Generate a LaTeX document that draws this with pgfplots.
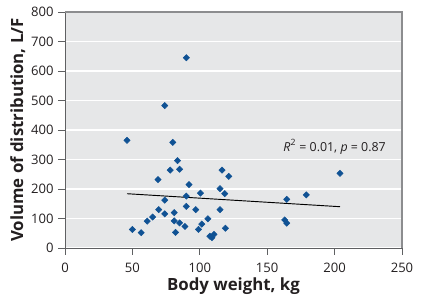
\documentclass[border=0pt]{standalone}
\usepackage{fontspec}
\setmainfont{Open Sans}
\usepackage{pgfplots}
\pgfplotsset{compat=1.18}
\definecolor{bgc}{RGB}{230,231,232}
\definecolor{mk}{RGB}{16,82,148}
\definecolor{axc}{RGB}{95,96,98}
\definecolor{frc}{RGB}{140,141,143}
\definecolor{txt}{RGB}{35,31,32}
\begin{document}
\begin{tikzpicture}
\begin{axis}[
  scale only axis,
  width=252.75pt, height=177pt,
  xmin=0, xmax=250, ymin=0, ymax=800,
  xtick distance=50, ytick distance=100,
  tick pos=left,
  tick align=outside,
  major tick length=5pt,
  tick style={axc, line width=0.6pt},
  axis line style={axc, line width=0.6pt},
  axis background/.style={fill=bgc},
  ymajorgrids,
  grid style={white, line width=0.8pt},
  /pgf/number format/assume math mode=true,
  /pgf/number format/set thousands separator={},
  ticklabel style={font=\fontsize{9.8}{11}\selectfont, text=txt},
  xticklabel style={yshift=-2.5pt},
  xlabel={Body weight, kg},
  ylabel={Volume of distribution, L/F},
  xlabel style={at={(axis description cs:0.5,-0.181)}, anchor=base, font=\fontsize{12.6}{14}\selectfont\bfseries, text=txt},
  ylabel style={at={(axis description cs:-0.124,0.5)}, anchor=base, rotate=0, font=\fontsize{12.6}{14}\selectfont\bfseries, text=txt},
  clip=false,
]
\addplot[only marks, mark=square*, mark size=1.65pt, mark options={rotate=45, fill=mk, draw=mk}] coordinates {
(46,365) (50,63) (56.5,52) (61,91) (65,105) (69,232) (69.5,130) (74,483)
(74,162) (74,116) (78,264) (80,358) (81,120) (81,92) (82,53) (83.5,296)
(85,267) (85,85) (89,73) (90,645) (90,176) (90,141) (92,215) (97,130)
(99,63) (100.5,186) (101.5,81) (106,99) (107.5,40) (109,35) (110.5,46)
(115,130) (115,201) (116.5,264) (118.5,184) (119,67) (121.5,243)
(163,95) (164.5,84) (164.5,165) (179,180) (204,253)
};
\addplot[black, line width=0.7pt] coordinates {(46,184) (204,140)};
\draw[frc, line width=1pt] (rel axis cs:0,1) -- (rel axis cs:1,1) -- (rel axis cs:1,0);
\node[font=\fontsize{9.3}{11}\selectfont, text=txt] at (axis cs:200,343) {\textit{R}\textsuperscript{2} = 0.01, \textit{p} = 0.87};
\end{axis}
\pgfresetboundingbox
\path[use as bounding box] (-48.75pt,-40.5pt) rectangle (267pt,186pt);
\end{tikzpicture}
\end{document}
